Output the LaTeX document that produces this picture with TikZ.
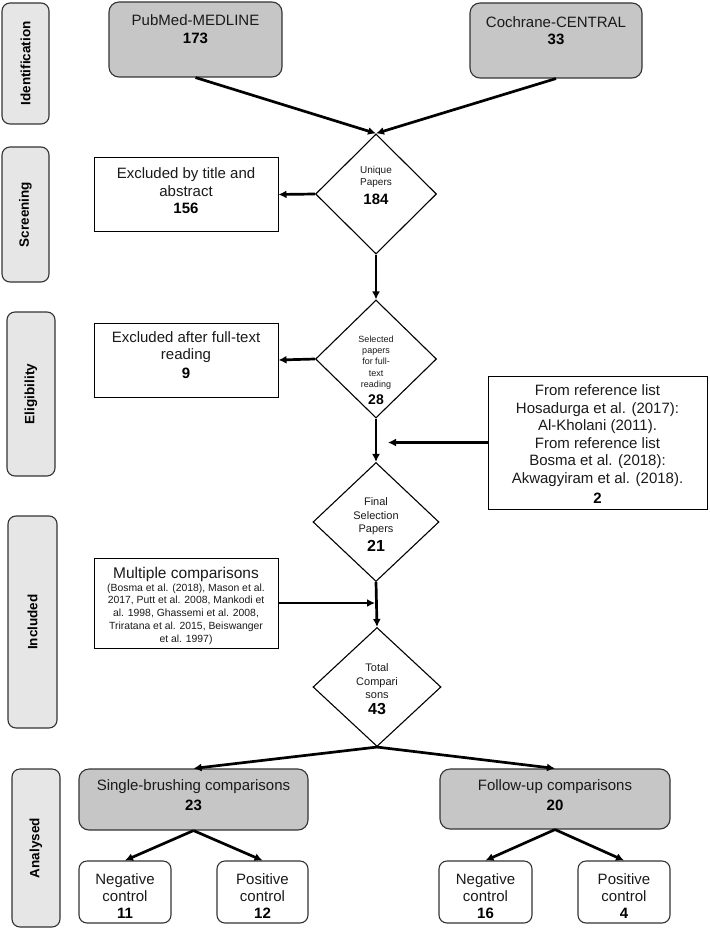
\documentclass[tikz,border=0pt]{standalone}
\usepackage{fontspec}
\setmainfont{Liberation Sans}
\usetikzlibrary{shapes.geometric,arrows.meta}
\definecolor{sidegray}{HTML}{E6E6E6}
\definecolor{boxgray}{HTML}{C6C6C6}
\definecolor{edgegray}{HTML}{333333}
\definecolor{txtgray}{HTML}{1A1A1A}
\begin{document}
\begin{tikzpicture}[x=1pt,y=-1pt,
 sidebox/.style={draw=edgegray, line width=1.1pt, fill=sidegray, rounded corners=8pt, rotate=90, font=\fontsize{13.5}{15}\selectfont\bfseries, inner sep=0pt},
 graybox/.style={draw=edgegray, line width=1.1pt, fill=boxgray, rounded corners=10pt, inner sep=0pt},
 whitebox/.style={draw=black, line width=1pt, fill=white, inner sep=0pt},
 roundbox/.style={draw=edgegray, line width=1.1pt, fill=white, rounded corners=8pt, inner sep=0pt},
 dia/.style={draw=black, line width=1.1pt, diamond, aspect=1, inner sep=0pt},
 txt/.style={align=center, text=txtgray, font=\fontsize{15}{17.5}\selectfont, inner sep=0pt},
 num/.style={align=center, text=black, font=\fontsize{15}{17}\selectfont\bfseries, inner sep=0pt},
 flow/.style={line width=2.7pt, -{Latex[length=8pt,width=8pt]}},
]
\useasboundingbox (0,0) rectangle (709,928);
% side labels
\node[sidebox, minimum width=121pt, minimum height=47pt] (sid) at (25.5,63.5) {Identification};
\node[sidebox, minimum width=135pt, minimum height=47pt] (sscr) at (25.5,214.5) {Screening};
\node[sidebox, minimum width=164pt, minimum height=48pt] (seli) at (31,394) {Eligibility};
\node[sidebox, minimum width=212pt, minimum height=49pt] (sinc) at (32.5,622) {Included};
\node[sidebox, minimum width=158pt, minimum height=48pt] (sana) at (36,848) {Analysed};
% top boxes
\node[graybox, minimum width=173pt, minimum height=75pt] (pub) at (195.5,39.5) {};
\node[txt] (pubt) at (195.5,20) {PubMed-MEDLINE};
\node[num] (pubn) at (195.5,38) {173};
\node[graybox, minimum width=172pt, minimum height=75pt] (coch) at (556,40.5) {};
\node[txt] (cocht) at (556,22) {Cochrane-CENTRAL};
\node[num] (cochn) at (556,39.5) {33};
% diamonds
\node[dia, minimum width=121pt, minimum height=120pt] (d1) at (376,194) {};
\node[txt, font=\fontsize{10}{12}\selectfont] (d1t) at (376,177) {Unique\\Papers};
\node[num] (d1n) at (376,199) {184};
\node[dia, minimum width=121pt, minimum height=118pt] (d2) at (376,359) {};
\node[txt, font=\fontsize{9}{11.2}\selectfont] (d2t) at (376,362.5) {Selected\\papers\\for full-\\text\\reading};
\node[num, font=\fontsize{14}{16}\selectfont\bfseries] (d2n) at (376,400) {28};
\node[dia, minimum width=126pt, minimum height=119pt] (d3) at (376,522) {};
\node[txt, font=\fontsize{11}{13.5}\selectfont] (d3t) at (376,516.5) {Final\\Selection\\Papers};
\node[num, font=\fontsize{16}{18}\selectfont\bfseries] (d3n) at (376,546) {21};
\node[dia, minimum width=128pt, minimum height=119pt] (d4) at (377,687) {};
\node[txt, font=\fontsize{11}{13.5}\selectfont] (d4t) at (377,681.5) {Total\\Compari\\sons};
\node[num, font=\fontsize{16}{18}\selectfont\bfseries] (d4n) at (377,709) {43};
% excluded boxes
\node[whitebox, minimum width=184pt, minimum height=73pt] (ex1) at (186,194.5) {};
\node[txt] (ex1t) at (186,182) {Excluded by title and\\abstract};
\node[num] (ex1n) at (186,208) {156};
\node[whitebox, minimum width=184pt, minimum height=74pt] (ex2) at (186,360) {};
\node[txt] (ex2t) at (186,347) {Excluded after full-text\\reading};
\node[num] (ex2n) at (186,373) {9};
% reference box
\node[whitebox, minimum width=219pt, minimum height=133pt] (ref) at (597.5,442.5) {};
\node[txt] (reft) at (597.5,435.5) {From reference list\\Hosadurga et al. (2017):\\Al-Kholani (2011).\\From reference list\\Bosma et al. (2018):\\Akwagyiram et al. (2018).};
\node[num] (refn) at (597.5,498) {2};
\coordinate (refend) at (388,442.5);
% multiple comparisons
\node[whitebox, minimum width=184pt, minimum height=90pt] (mult) at (186,603) {};
\node[txt, font=\fontsize{15.5}{17}\selectfont] (multt) at (186,574) {Multiple comparisons};
\node[txt, font=\fontsize{10.4}{12.8}\selectfont] (mults) at (186,614) {(Bosma et al. (2018), Mason et al.\\2017, Putt et al. 2008, Mankodi et\\al. 1998, Ghassemi et al. 2008,\\Triratana et al. 2015, Beiswanger\\et al. 1997)};
\coordinate (multend) at (375,603);
% analysed
\node[graybox, minimum width=229pt, minimum height=61pt] (single) at (193.5,799.5) {};
\node[txt] (singlet) at (193.5,787) {Single-brushing comparisons};
\node[num] (singlen) at (193.5,805) {23};
\node[graybox, minimum width=230pt, minimum height=60pt] (follow) at (555,799) {};
\node[txt] (followt) at (555,787) {Follow-up comparisons};
\node[num] (followen) at (555,805) {20};
\node[roundbox, minimum width=92pt, minimum height=62pt] (neg1) at (125,892) {};
\node[txt] (neg1t) at (125,887.5) {Negative\\control};
\node[num] (neg1n) at (125,913) {11};
\node[roundbox, minimum width=91pt, minimum height=62pt] (pos1) at (262.5,892) {};
\node[txt] (pos1t) at (262.5,887.5) {Positive\\control};
\node[num] (pos1n) at (262.5,913) {12};
\node[roundbox, minimum width=93pt, minimum height=62pt] (neg2) at (485.5,892) {};
\node[txt] (neg2t) at (485.5,887.5) {Negative\\control};
\node[num] (neg2n) at (485.5,913) {16};
\node[roundbox, minimum width=92pt, minimum height=62pt] (pos2) at (624,892) {};
\node[txt] (pos2t) at (624,887.5) {Positive\\control};
\node[num] (pos2n) at (624,913) {4};
% connectors
\draw[flow] (pub.south) -- (d1.north);
\draw[flow] (coch.south) -- (d1.north);
\draw[flow] (d1.west) -- (ex1.east);
\draw[flow] (d1.south) -- (d2.north);
\draw[flow] (d2.west) -- (ex2.east);
\draw[flow] (d2.south) -- (d3.north);
\draw[flow] (ref.west) -- (refend);
\draw[flow] (d3.south) -- (d4.north);
\draw[flow] (mult.east) -- (multend);
\draw[flow] (d4.south) -- (single.north);
\draw[flow] (d4.south) -- (follow.north);
\draw[flow] (single.south) -- (neg1.north);
\draw[flow] (single.south) -- (pos1.north);
\draw[flow] (follow.south) -- (neg2.north);
\draw[flow] (follow.south) -- (pos2.north);
\end{tikzpicture}
\end{document}
